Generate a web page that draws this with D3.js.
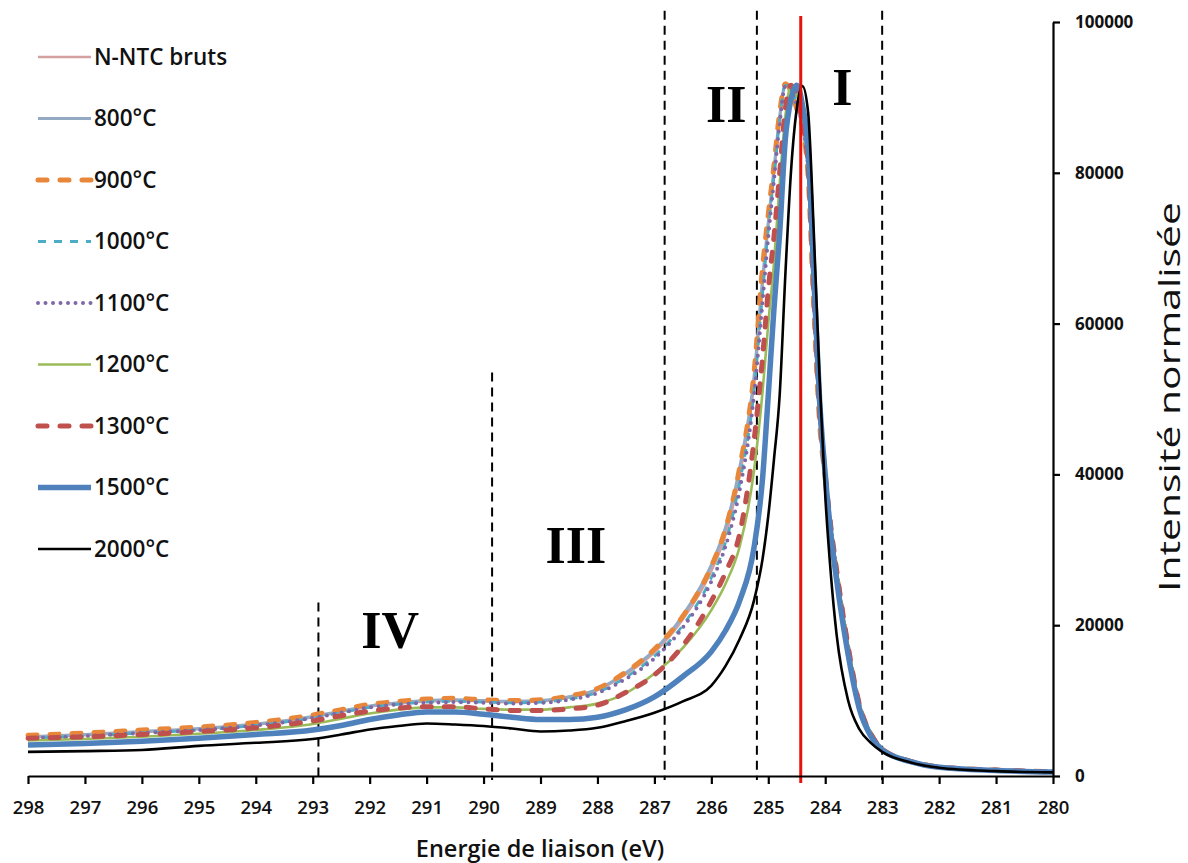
<!DOCTYPE html>
<html>
<head>
<meta charset="utf-8">
<script src="https://cdn.jsdelivr.net/npm/d3@7"></script>
<style>
  html, body { margin: 0; padding: 0; background: #fff; }
  svg { display: block; }
</style>
</head>
<body>
<svg id="chart" width="1188" height="863"></svg>
<script>
// ---------------- DATA ----------------
const energy = [298, 297, 296, 295, 294, 293, 292.5, 292, 291.5, 291, 290.5, 290, 289.5, 289, 288.5, 288, 287.5, 287, 286.5, 286,
  285.75, 285.5, 285.25, 285.1, 285, 284.9, 284.8, 284.7, 284.6, 284.5, 284.4, 284.3, 284.2, 284.1, 284,
  283.9, 283.8, 283.6, 283.4, 283.2, 283, 282.5, 282, 281, 280];

const seriesNames = ["N-NTC bruts", "800°C", "900°C", "1000°C", "1100°C", "1200°C", "1300°C", "1500°C", "2000°C"];

const bruts = [5100, 5400, 5800, 6200, 6800, 7800, 8500, 9200, 9600, 9900, 10000, 9900, 9800, 9900, 10400, 11400, 13500, 16400, 20800, 27200,
  32000, 40000, 52000, 65000, 73000, 80000, 87000, 91600, 91000, 88800, 86200, 80000, 62500, 47500, 39500,
  32500, 27000, 17000, 9400, 5600, 3600, 1950, 1200, 780, 560];
const t800 = [5200, 5500, 5900, 6300, 6900, 7900, 8600, 9300, 9700, 10000, 10100, 10000, 9900, 10000, 10500, 11500, 13700, 16700, 21300, 28000,
  33000, 41000, 53000, 66000, 73500, 80500, 87500, 91700, 91000, 88800, 86200, 80000, 62500, 47500, 39500,
  32500, 27000, 16900, 9300, 5500, 3550, 1950, 1200, 780, 560];
const t900 = [5400, 5700, 6100, 6500, 7100, 8100, 8800, 9500, 9900, 10200, 10300, 10100, 10000, 10100, 10600, 11600, 13800, 16800, 21200, 27800,
  32800, 41000, 53500, 67500, 74500, 81000, 88000, 91800, 90800, 88500, 86000, 79500, 62000, 47000, 39500,
  32500, 27000, 17000, 9400, 5600, 3600, 1950, 1200, 780, 560];
const t1000 = [5000, 5300, 5700, 6100, 6700, 7700, 8400, 9100, 9500, 9800, 9900, 9800, 9700, 9800, 10200, 11100, 13100, 15900, 20000, 26300,
  31000, 39000, 51000, 64000, 72500, 79500, 87000, 91600, 91100, 89000, 86300, 80500, 63000, 48000, 40000,
  33000, 27300, 17300, 9600, 5700, 3650, 2000, 1200, 780, 560];
const t1100 = [5000, 5300, 5700, 6100, 6700, 7700, 8400, 9100, 9500, 9700, 9800, 9700, 9600, 9700, 10100, 11000, 12900, 15600, 19700, 25800,
  30500, 38000, 50500, 63000, 71500, 79000, 86500, 91500, 91200, 89000, 86300, 80500, 63000, 48000, 40000,
  33000, 27300, 17200, 9500, 5600, 3600, 1950, 1200, 780, 560];
const t1200 = [4700, 4900, 5200, 5600, 6100, 6900, 7600, 8300, 8800, 9100, 9100, 8900, 8800, 8800, 9100, 9600, 11000, 13600, 17000, 22000,
  25500, 30500, 40500, 51000, 60000, 68000, 78500, 87500, 91600, 90300, 87000, 81500, 64500, 49000, 40500,
  33200, 27500, 17400, 9600, 5700, 3650, 2000, 1200, 780, 560];
const t1300 = [5000, 5200, 5500, 5900, 6400, 7300, 8000, 8600, 9000, 9200, 9200, 8900, 8700, 8700, 8900, 9400, 11100, 13400, 17300, 23200,
  27000, 32200, 44500, 55500, 64500, 71500, 80000, 88500, 91600, 90000, 86700, 81000, 64000, 48500, 40000,
  33000, 27300, 17300, 9500, 5600, 3600, 1950, 1200, 780, 560];
const t1500 = [4100, 4300, 4600, 5000, 5500, 6100, 6700, 7500, 8100, 8500, 8500, 8200, 7800, 7500, 7500, 7800, 8800, 10500, 13200, 16500,
  19300, 23300, 30300, 39500, 50500, 62000, 72000, 84500, 89800, 91600, 89000, 83000, 66500, 50000, 40000,
  32000, 26000, 16200, 8900, 5300, 3450, 1900, 1150, 720, 520];
const t2000 = [3200, 3300, 3450, 4000, 4400, 4900, 5500, 6170, 6630, 6960, 6830, 6630, 6300, 5900, 6030, 6400, 7300, 8400, 9900, 12000,
  14600, 18200, 23300, 28800, 34500, 42000, 50500, 66500, 80300, 88500, 91500, 88000, 72000, 52900, 37260,
  26650, 18760, 10080, 6200, 4400, 3200, 1800, 1100, 650, 480];

const xTicks = [298, 297, 296, 295, 294, 293, 292, 291, 290, 289, 288, 287, 286, 285, 284, 283, 282, 281, 280];
const yTicks = [0, 20000, 40000, 60000, 80000, 100000];

// region separators (energy, top intensity) and reference line
const sepEnergy = [292.9, 289.85, 286.82, 285.2, 283.0];
const sepTop = [23000, 53500, 101500, 101500, 101500];
const refEnergy = 284.43;
const regionNames = ["I", "II", "III", "IV"];
const regionEnergy = [283.70, 285.74, 288.38, 291.64];
const regionIntensity = [89000, 86700, 28250, 17000];

const xTitle = "Energie de liaison (eV)";
const yTitle = "Intensité normalisée";

// ---------------- STYLES ----------------
const seriesData = [bruts, t800, t900, t1000, t1100, t1200, t1300, t1500, t2000];
const styles = [
  { color: "#D4A0A0", width: 2.6, dash: null, cap: "butt" },
  { color: "#94AAC4", width: 3, dash: null, cap: "butt" },
  { color: "#E8873A", width: 5, dash: "9,13", cap: "round" },
  { color: "#4BACC6", width: 2.8, dash: "8,8", cap: "butt" },
  { color: "#7F68A8", width: 4, dash: "0,7.5", cap: "round" },
  { color: "#9BBB59", width: 2.6, dash: null, cap: "butt" },
  { color: "#C0504D", width: 5, dash: "9,13", cap: "round" },
  { color: "#4F81BD", width: 5.5, dash: null, cap: "butt" },
  { color: "#000000", width: 2.6, dash: null, cap: "butt" }
];

// ---------------- CHART ----------------
const svg = d3.select("#chart");
const x = d3.scaleLinear().domain([298, 280]).range([28, 1053]);
const y = d3.scaleLinear().domain([0, 100000]).range([776, 22]);

const FONT = "'Open Sans', 'Noto Sans', sans-serif";

// separators
svg.append("g").selectAll("line").data(sepEnergy).join("line")
  .attr("x1", d => x(d)).attr("x2", d => x(d))
  .attr("y1", (d, i) => y(sepTop[i])).attr("y2", y(0) + 4)
  .attr("stroke", "#000").attr("stroke-width", 2).attr("stroke-dasharray", "9,6");

// series
const line = d3.line().x((d, i) => x(energy[i])).y(d => y(d)).curve(d3.curveMonotoneX);
const gS = svg.append("g");
seriesData.forEach((vals, k) => {
  const s = styles[k];
  gS.append("path").datum(vals)
    .attr("d", line)
    .attr("fill", "none")
    .attr("stroke", s.color)
    .attr("stroke-width", s.width)
    .attr("stroke-linejoin", "round")
    .attr("stroke-linecap", s.cap)
    .attr("stroke-dasharray", s.dash);
});

// reference line (red)
svg.append("line")
  .attr("x1", x(refEnergy)).attr("x2", x(refEnergy))
  .attr("y1", y(100800)).attr("y2", y(0) + 7)
  .attr("stroke", "#E8120C").attr("stroke-width", 3);

// x axis
const xAxis = svg.append("g").attr("transform", `translate(0,${y(0)})`)
  .call(d3.axisBottom(x).tickValues(xTicks).tickSize(8).tickSizeOuter(0).tickPadding(17).tickFormat(d3.format("d")));
xAxis.select(".domain").attr("stroke", "#000").attr("stroke-width", 2.2);
xAxis.selectAll(".tick line").attr("stroke", "#000").attr("stroke-width", 2.2);
xAxis.selectAll(".tick text").attr("font-family", FONT).attr("font-size", 18.5).attr("font-weight", 600).attr("fill", "#111");

// y axis (right)
const yAxis = svg.append("g").attr("transform", `translate(${x(280)},0)`)
  .call(d3.axisRight(y).tickValues(yTicks).tickSize(7).tickSizeOuter(0).tickPadding(15).tickFormat(d3.format("d")));
yAxis.select(".domain").attr("stroke", "#000").attr("stroke-width", 2.2);
yAxis.selectAll(".tick line").attr("stroke", "#000").attr("stroke-width", 2.2);
yAxis.selectAll(".tick text").attr("font-family", FONT).attr("font-size", 17).attr("font-weight", "bold").attr("fill", "#111");

// axis titles
svg.append("text").attr("x", 540).attr("y", 857).attr("text-anchor", "middle")
  .attr("font-family", FONT).attr("font-size", 23.5).attr("font-weight", 600).attr("fill", "#111")
  .text(xTitle);
svg.append("text").attr("transform", "translate(1180,397) rotate(-90)").attr("text-anchor", "middle")
  .attr("font-family", FONT).attr("font-size", 29).attr("fill", "#111")
  .attr("textLength", 390).attr("lengthAdjust", "spacingAndGlyphs")
  .text(yTitle);

// region labels
svg.append("g").selectAll("text").data(regionNames).join("text")
  .attr("x", (d, i) => x(regionEnergy[i])).attr("y", (d, i) => y(regionIntensity[i]))
  .attr("text-anchor", "middle")
  .attr("font-family", "'Liberation Serif', 'DejaVu Serif', serif").attr("font-weight", "bold")
  .attr("font-size", 52).attr("fill", "#000")
  .text(d => d);

// legend
const lg = svg.append("g");
seriesNames.forEach((name, k) => {
  const s = styles[k];
  const cy = 57 + k * 61.5;
  lg.append("line").attr("x1", 38).attr("x2", 91).attr("y1", cy).attr("y2", cy)
    .attr("stroke", s.color).attr("stroke-width", s.width)
    .attr("stroke-linecap", s.cap).attr("stroke-dasharray", s.dash);
  lg.append("text").attr("x", 94).attr("y", cy).attr("dy", "0.35em")
    .attr("font-family", FONT).attr("font-size", 22.5).attr("font-weight", 600).attr("fill", "#111")
    .text(name);
});
</script>
</body>
</html>
